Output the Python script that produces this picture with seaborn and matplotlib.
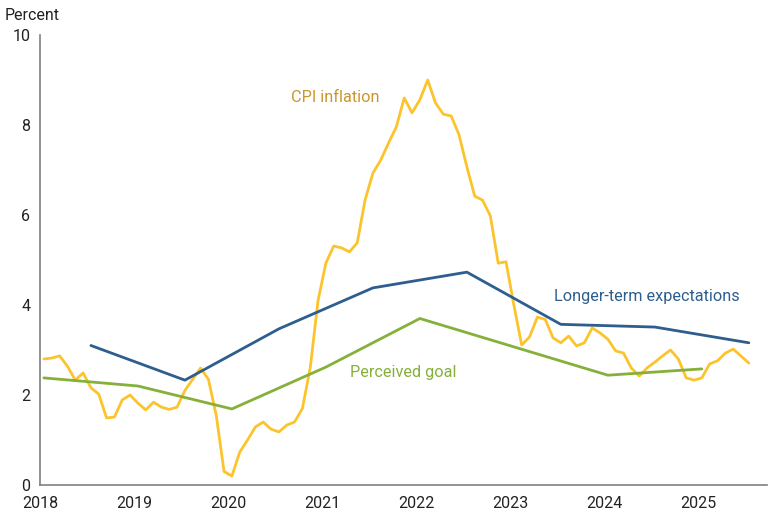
import numpy as np
import pandas as pd
import seaborn as sns
import matplotlib.pyplot as plt

# monthly CPI inflation, plotted at mid-month (month index from Jan 2018)
cpi_month = list(range(0, 89)) + [90]
cpi_value = [
    2.80, 2.82, 2.87, 2.64, 2.33, 2.49, 2.16, 2.02, 1.49, 1.51, 1.89, 2.00,
    1.82, 1.67, 1.84, 1.73, 1.68, 1.73, 2.10, 2.35, 2.60, 2.35, 1.55, 0.30,
    0.20, 0.73, 1.00, 1.29, 1.40, 1.24, 1.18, 1.33, 1.40, 1.70, 2.60, 4.10,
    4.93, 5.31, 5.27, 5.18, 5.38, 6.33, 6.93, 7.22, 7.60, 7.96, 8.60, 8.27,
    8.56, 9.00, 8.49, 8.24, 8.20, 7.78, 7.07, 6.42, 6.33, 5.98, 4.93, 4.96,
    4.00, 3.11, 3.29, 3.73, 3.68, 3.27, 3.16, 3.31, 3.09, 3.16, 3.49, 3.38,
    3.24, 2.98, 2.93, 2.60, 2.42, 2.60, 2.73, 2.87, 3.00, 2.80, 2.38, 2.33,
    2.38, 2.69, 2.76, 2.93, 3.02, 2.71,
]

# longer-term expectations, mid-year survey points
exp_year = [2018, 2019, 2020, 2021, 2022, 2023, 2024, 2025]
exp_value = [3.10, 2.33, 3.47, 4.38, 4.73, 3.57, 3.51, 3.16]

# perceived goal, early-year survey points
goal_year = [2018, 2019, 2020, 2021, 2022, 2023, 2024, 2025]
goal_value = [2.38, 2.20, 1.69, 2.62, 3.70, 3.07, 2.44, 2.58]

cpi = pd.DataFrame({"x": 2018 + (np.array(cpi_month) + 0.5) / 12, "y": cpi_value})
exp = pd.DataFrame({"x": np.array(exp_year) + 6.5 / 12, "y": exp_value})
goal = pd.DataFrame({"x": np.array(goal_year) + 0.5 / 12, "y": goal_value})

sns.set_theme(style="white")
plt.rcParams["font.family"] = ["Roboto", "DejaVu Sans"]

c_cpi = "#FCC42C"
c_exp = "#2D5E8E"
c_goal = "#85B03A"

fig = plt.figure(figsize=(7.68, 5.16), dpi=100)
ax = fig.add_axes([40 / 768, 31 / 516, 727 / 768, 450 / 516])

sns.lineplot(data=cpi, x="x", y="y", ax=ax, color=c_cpi, linewidth=2.0)
sns.lineplot(data=exp, x="x", y="y", ax=ax, color=c_exp, linewidth=2.0)
sns.lineplot(data=goal, x="x", y="y", ax=ax, color=c_goal, linewidth=2.0)

ax.set_xlim(2018, 2025.735)
ax.set_ylim(0, 10)
ax.set_xticks(range(2018, 2026))
ax.set_yticks(range(0, 11, 2))
ax.set_xlabel("")
ax.set_ylabel("")
ax.tick_params(axis="both", labelsize=11.5, colors="#222222", length=5,
               width=1, direction="out", color="#808080", pad=3)
ax.tick_params(axis="y", pad=2)

for s in ["top", "right"]:
    ax.spines[s].set_visible(False)
for s in ["left", "bottom"]:
    ax.spines[s].set_color("#808080")
    ax.spines[s].set_linewidth(1.2)

fig.text(5 / 768, 1 - 16 / 516, "Percent", fontsize=11.5, color="#222222",
         va="center", ha="left")

ax.text(2021.14, 8.62, "CPI inflation", color="#C9962E", fontsize=11.7,
        ha="center", va="center")
ax.text(2024.46, 4.2, "Longer-term expectations", color=c_exp, fontsize=11.7,
        ha="center", va="center")
ax.text(2021.86, 2.49, "Perceived goal", color=c_goal, fontsize=11.7,
        ha="center", va="center")

fig.savefig("out.png", dpi=100)
